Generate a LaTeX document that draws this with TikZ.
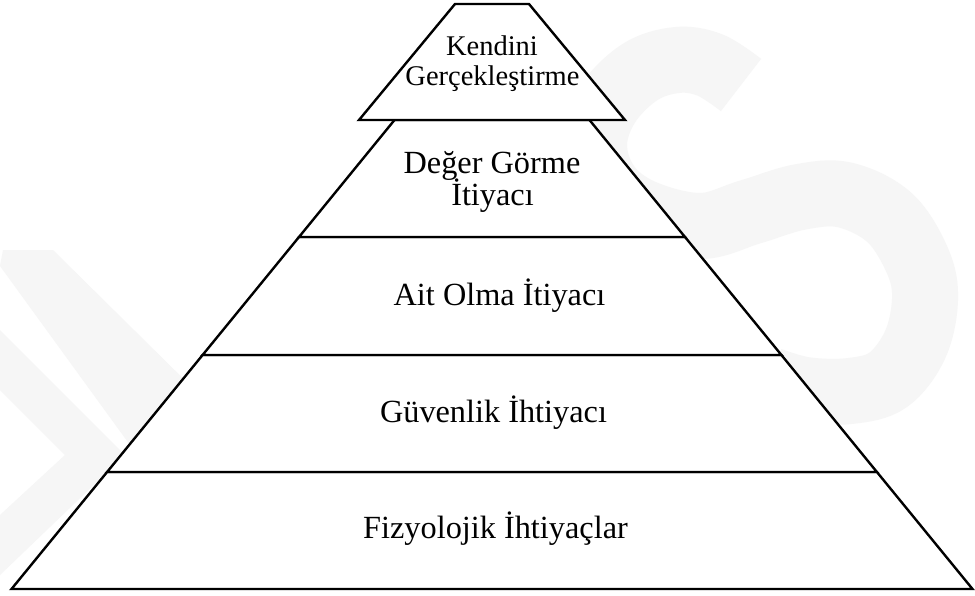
\documentclass[tikz,border=0pt]{standalone}
\usepackage{fontspec}
\setmainfont{Liberation Serif}
\begin{document}
\begin{tikzpicture}[x=1pt,y=-1pt,
  wm/.style={gray!7},
  layer/.style={draw=black, fill=white, line width=2.4pt, line join=miter},
  layertext/.style={font=\fontsize{32.3}{33}\selectfont, anchor=base, inner sep=0pt},
  toptext/.style={font=\fontsize{28.5}{30}\selectfont, anchor=base, inner sep=0pt}]
  \useasboundingbox[fill=white] (0,0) rectangle (975,595);

  % faint background mark
  \fill[wm] (3,250) -- (53,250) -- (215,410) -- (130,445) -- (0,266) -- cycle;
  \fill[wm] (0,330) -- (125,455) -- (0,575) -- (0,515) -- (65,455) -- (0,390) -- cycle;
  \draw[wm, line width=66pt] plot[smooth, tension=0.6] coordinates {
    (741,85) (710,65) (677,60) (640,72) (607,105) (594,145) (607,185)
    (642,212) (700,226) (750,212) (800,197) (845,195) (890,218)
    (918,262) (925,300) (915,345) (888,380) (850,391) (805,390) (770,380)};

  % pyramid levels, bottom to top
  \draw[layer] (11.5,589) -- (972.5,589) -- (876.9,472) -- (107.1,472) -- cycle;
  \draw[layer] (107.1,472) -- (876.9,472) -- (781.4,355) -- (202.6,355) -- cycle;
  \draw[layer] (202.6,355) -- (781.4,355) -- (685,237) -- (299,237) -- cycle;
  \draw[layer] (299,237) -- (685,237) -- (589.5,120) -- (394.5,120) -- cycle;
  \draw[layer] (359,120) -- (625,120) -- (529,4) -- (455,4) -- cycle;

  % labels
  \node[toptext] (kendini) at (492,55) {Kendini};
  \node[toptext] (gercek) at (492.5,85) {Gerçekleştirme};
  \node[layertext] (deger) at (492,173) {Değer Görme};
  \node[layertext] (degeri) at (492.5,205) {İtiyacı};
  \node[layertext] (ait) at (499.5,305) {Ait Olma İtiyacı};
  \node[layertext] (guven) at (493.5,422) {Güvenlik İhtiyacı};
  \node[layertext] (fizyo) at (495.5,538) {Fizyolojik İhtiyaçlar};
\end{tikzpicture}
\end{document}
